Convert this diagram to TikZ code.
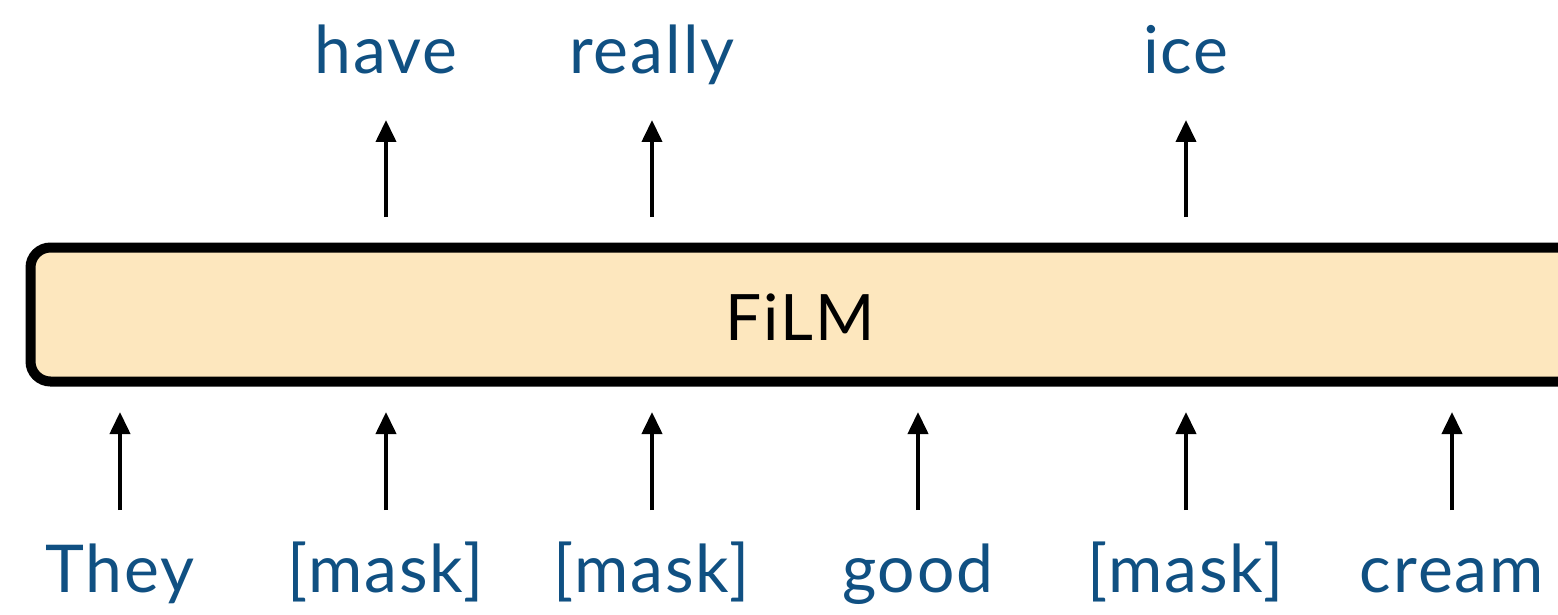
\documentclass[tikz,border=0pt]{standalone}
\usepackage{fontspec}
\setmainfont{Lato}[LetterSpace=3]
\usetikzlibrary{arrows.meta}
\definecolor{wordblue}{RGB}{16,80,130}
\definecolor{filmfill}{RGB}{253,231,190}
\tikzset{
  word/.style={text=wordblue, font=\fontsize{33}{38}\selectfont, anchor=base, inner sep=0pt},
  arr/.style={-{Triangle[length=11pt,width=10pt]}, line width=2pt, black},
  filmbox/.style={draw=black, line width=5pt, fill=filmfill, rounded corners=10pt}
}
\begin{document}
\begin{tikzpicture}[x=0.5pt,y=-0.5pt]
\useasboundingbox (0,0) rectangle (1558,615);
\draw[filmbox] (30.5,247.5) rectangle (1600,381.5);
\node[anchor=base, inner sep=0pt, font=\fontsize{32}{36}\selectfont] (film) at (800,340) {FiLM};
% bottom words
\node[word] (w1) at (120,592) {They};
\node[word] (w2) at (386,592) {[mask]};
\node[word] (w3) at (652,592) {[mask]};
\node[word] (w4) at (918,592) {good};
\node[word] (w5) at (1186,592) {[mask]};
\node[word] (w6) at (1452,592) {cream};
% top words
\node[word] (t2) at (386,74) {have};
\node[word] (t3) at (652,74) {really};
\node[word] (t5) at (1186,74) {ice};
% arrow coordinates
\foreach \n/\x in {1/120,2/386,3/652,4/918,5/1186,6/1452}{
  \coordinate (bs\n) at (\x,510);
  \coordinate (be\n) at (\x,412);
  \draw[arr] (bs\n) -- (be\n);
}
\foreach \n/\x in {2/386,3/652,5/1186}{
  \coordinate (ts\n) at (\x,217);
  \coordinate (te\n) at (\x,120);
  \draw[arr] (ts\n) -- (te\n);
}
\end{tikzpicture}
\end{document}
